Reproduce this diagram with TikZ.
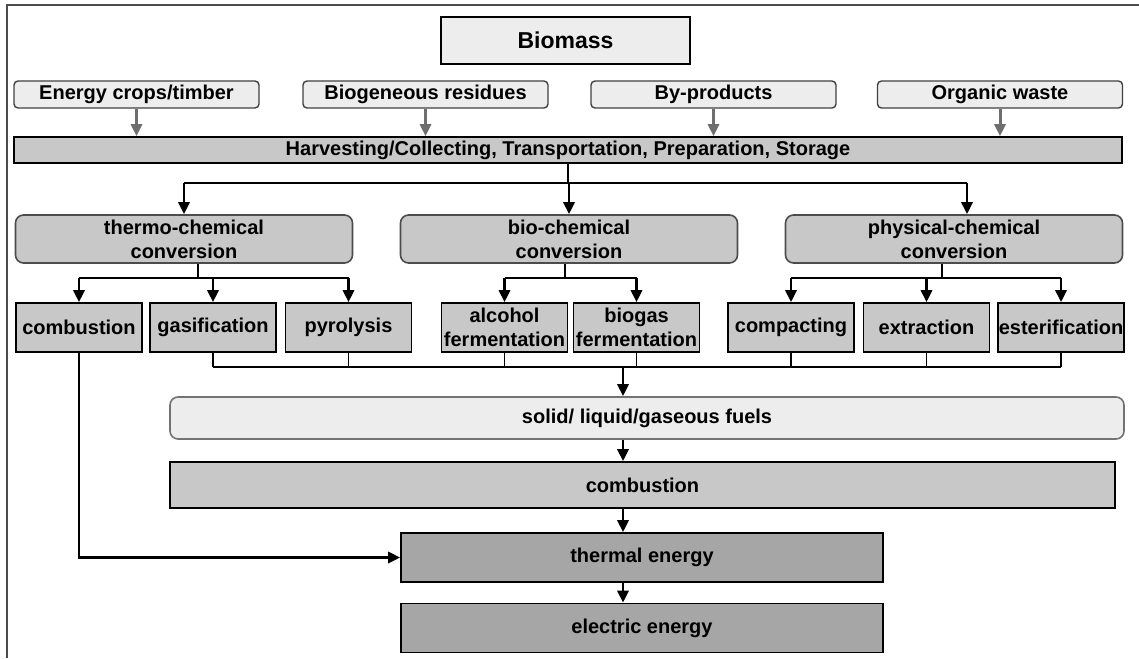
\documentclass[tikz,border=0pt]{standalone}
\usepackage{fontspec}
\setmainfont{Liberation Sans}
\usetikzlibrary{arrows.meta}

\definecolor{lightfill}{HTML}{EDEDED}
\definecolor{midfill}{HTML}{C8C8C8}
\definecolor{darkfill}{HTML}{A6A6A6}
\definecolor{arrowgray}{HTML}{6E6E6E}

\begin{document}
\begin{tikzpicture}[x=0.5pt,y=-0.5pt,
		every node/.style={font=\fontsize{10}{12}\selectfont\bfseries, align=center, inner sep=0pt},
		source/.style={draw=black!75, fill=lightfill, rounded corners=2pt, line width=0.7pt,
			minimum width=122.5pt, minimum height=13.5pt},
		conv/.style={draw=black!70, fill=midfill, rounded corners=4pt, line width=0.8pt,
			minimum width=168.5pt, minimum height=24pt},
		proc/.style={draw=black, fill=midfill, line width=0.8pt,
			minimum width=63pt, minimum height=24.5pt},
		energy/.style={draw=black, fill=darkfill, line width=0.8pt,
			minimum width=241pt, minimum height=24.5pt},
		branch/.style={draw=black, line width=0.6pt},
		arr/.style={draw=black, line width=1.4pt, -{Triangle[length=6pt,width=5.5pt]}},
		grayarr/.style={draw=arrowgray, line width=1.5pt, -{Triangle[length=6pt,width=5.5pt]}}]

		\useasboundingbox (0,0) rectangle (1139,658);
		\draw [black!70, line width=0.6pt] (1139,5) -- (7,5) -- (7,658);

		% top row
		\node [draw=black, fill=lightfill, line width=0.8pt, minimum width=124.5pt, minimum height=23.5pt,
			font=\fontsize{11.5}{14}\selectfont\bfseries] (biomass) at (565.5,40.5) {Biomass};

		\node [source] (crops) at (136.5,94.5) {Energy crops/timber};
		\node [source] (residues) at (425.5,94.5) {Biogeneous residues};
		\node [source] (byprod) at (713.5,94.5) {By-products};
		\node [source] (waste) at (1000,94.5) {Organic waste};

		\node [draw=black, fill=midfill, line width=0.8pt, minimum width=554pt, minimum height=13pt]
			(harvest) at (568,150) {Harvesting/Collecting, Transportation, Preparation, Storage};

		\foreach \n in {crops,residues,byprod,waste}
		{
			\draw [grayarr] (\n) -- (\n |- harvest.north);
		}

		% conversion routes
		\node [conv] (thermo) at (184,239) {thermo-chemical\\conversion};
		\node [conv] (bio) at (569,239) {bio-chemical\\conversion};
		\node [conv] (phys) at (954,239) {physical-chemical\\conversion};

		\coordinate (hjoin) at (568,183);
		\coordinate (physin) at ([xshift=6.5pt]phys.north);
		\draw [branch] (harvest.south) -- (hjoin);
		\draw [branch] (hjoin -| thermo.north) -- (hjoin -| physin);
		\draw [arr] (hjoin -| thermo.north) -- (thermo.north);
		\draw [arr] (hjoin -| bio.north) -- (bio.north);
		\draw [arr] (hjoin -| physin) -- (physin);

		% processes
		\node [proc] (comb) at (79,327.5) {combustion};
		\node [proc] (gasif) at (213,327.5) {gasification};
		\node [proc] (pyro) at (348.5,327.5) {pyrolysis};
		\node [proc] (alcohol) at (504.5,327.5) {alcohol\\fermentation};
		\node [proc] (biogas) at (636.5,327.5) {biogas\\fermentation};
		\node [proc] (compact) at (791,327.5) {compacting};
		\node [proc] (extract) at (926.5,327.5) {extraction};
		\node [proc] (ester) at (1061,327.5) {esterification};

		\coordinate (tj) at (198,278);
		\coordinate (bj) at (565,278);
		\coordinate (pj) at (942,278);
		\draw [branch] (thermo.south -| tj) -- (tj);
		\draw [branch] (tj -| comb) -- (tj -| pyro);
		\foreach \n in {comb,gasif,pyro}
		{
			\draw [arr] (tj -| \n.north) -- (\n.north);
		}
		\draw [branch] (bio.south -| bj) -- (bj);
		\draw [branch] (bj -| alcohol) -- (bj -| biogas);
		\foreach \n in {alcohol,biogas}
		{
			\draw [arr] (bj -| \n.north) -- (\n.north);
		}
		\draw [branch] (phys.south -| pj) -- (pj);
		\draw [branch] (pj -| compact) -- (pj -| ester);
		\foreach \n in {compact,extract,ester}
		{
			\draw [arr] (pj -| \n.north) -- (\n.north);
		}

		% fuels and energy
		\node [draw=black!55, fill=lightfill, rounded corners=4pt, line width=0.8pt,
			minimum width=477pt, minimum height=21pt] (fuels) at (647,418) {solid/ liquid/gaseous fuels};
		\node [draw=black, fill=midfill, line width=0.8pt, minimum width=472.5pt, minimum height=23pt]
			(burn) at (642.5,485) {combustion};
		\node [energy] (thermal) at (642,557.5) {thermal energy};
		\node [energy] (electric) at (642,628) {electric energy};

		\coordinate (cj) at (623,367);
		\foreach \n in {gasif,pyro,alcohol,biogas,compact,extract,ester}
		{
			\draw [branch] (\n.south) -- (\n.south |- cj);
		}
		\draw [branch] (cj -| gasif.south) -- (cj -| ester.south);
		\draw [arr] (cj) -- (cj |- fuels.north);
		\draw [arr] (cj |- fuels.south) -- (cj |- burn.north);
		\draw [arr] (cj |- burn.south) -- (cj |- thermal.north);
		\draw [arr] (cj |- thermal.south) -- (cj |- electric.north);

		\draw [arr] (comb.south) |- (thermal.west);
	\end{tikzpicture}
\end{document}
